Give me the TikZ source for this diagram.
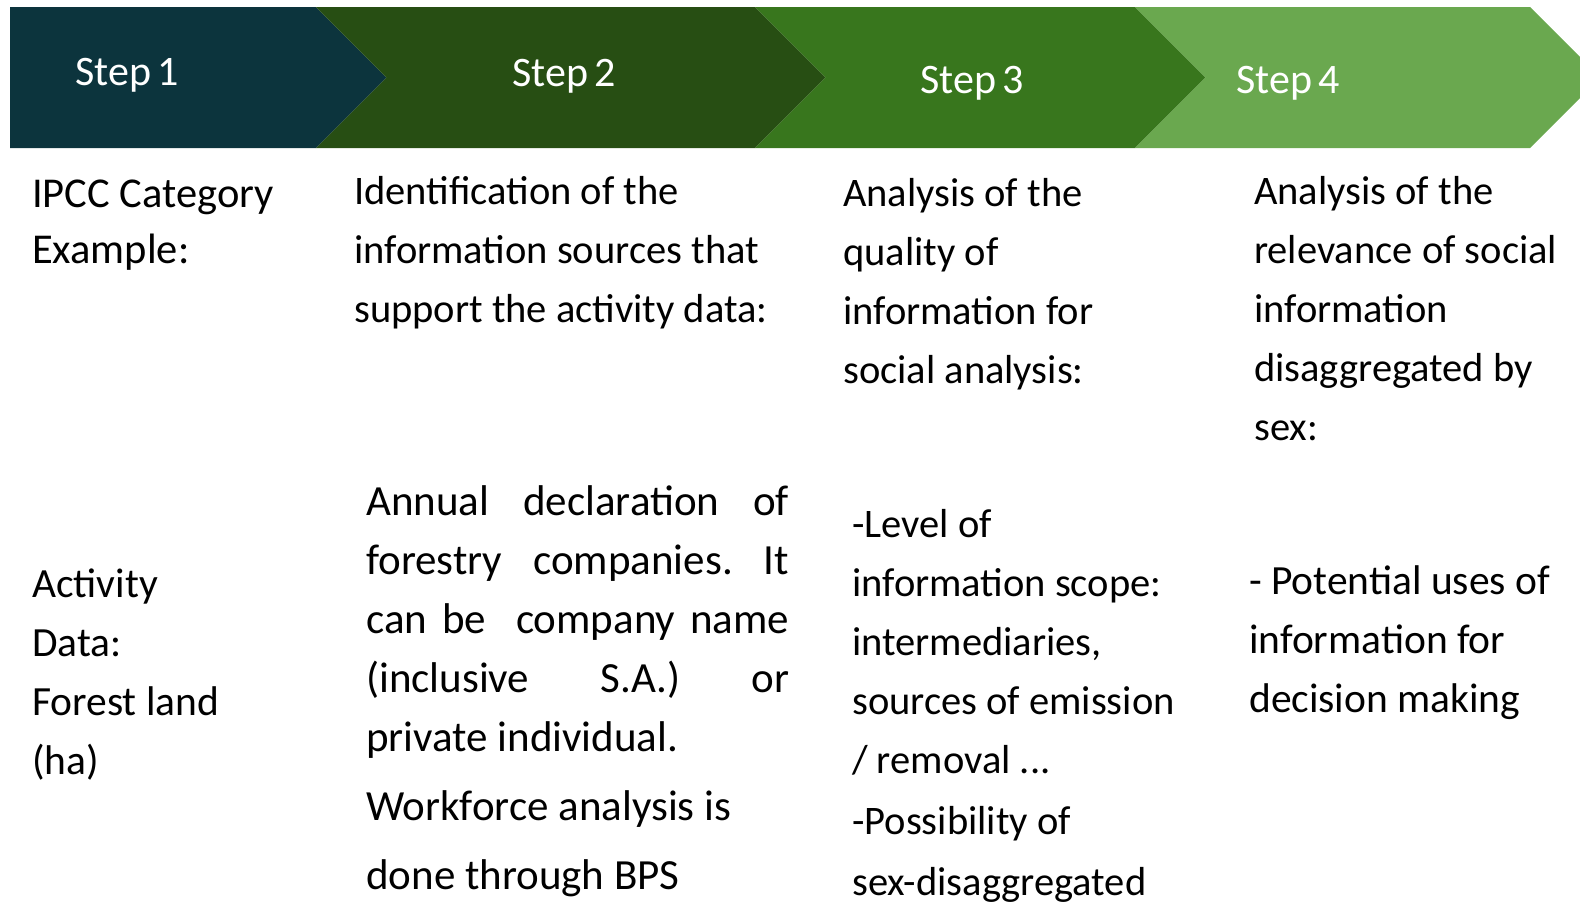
\documentclass[tikz,border=0pt]{standalone}
\usepackage{fontspec}
\setmainfont{Carlito}
\newfontfamily\stepfont{Carlito}[WordSpace=0.7]
\definecolor{stepone}{HTML}{0C343D}
\definecolor{steptwo}{HTML}{274E13}
\definecolor{stepthree}{HTML}{38761D}
\definecolor{stepfour}{HTML}{6AA84F}

\begin{document}
\begin{tikzpicture}[x=1pt, y=-1pt,
    steplabel/.style={anchor=base west, inner sep=0pt, text=white,
                      font=\stepfont\fontsize{42}{50}\selectfont},
    cell/.style={anchor=base west, inner sep=0pt, align=flush left, text width=#1,
                 font=\fontsize{40.5}{59}\selectfont},
    cell/.default=480pt]
    \useasboundingbox (0,0) rectangle (1580,903);

    \fill [stepone] (10,7) -- (316,7) -- (386.5,77.5) -- (316,148) -- (10,148) -- cycle;
    \fill [steptwo] (316,7) -- (755,7) -- (825.5,77.5) -- (755,148) -- (316,148) -- (386.5,77.5) -- cycle;
    \fill [stepthree] (755,7) -- (1135,7) -- (1205.5,77.5) -- (1135,148) -- (755,148) -- (825.5,77.5) -- cycle;
    \fill [stepfour] (1135,7) -- (1530,7) -- (1600.5,77.5) -- (1530,148) -- (1135,148) -- (1205.5,77.5) -- cycle;

    \node [steplabel] (step1) at (75,85) {Step 1};
    \node [steplabel] (step2) at (512,86) {Step 2};
    \node [steplabel] (step3) at (920,93) {Step 3};
    \node [steplabel] (step4) at (1236,93) {Step 4};

    \node [cell, font=\fontsize{42.5}{59}\selectfont] (category) at (32,207) {IPCC Category\\[-3pt]Example:};
    \node [cell] (sources) at (354,204) {Identification of the\\information sources that\\support the activity data:};
    \node [cell] (quality) at (843,206) {Analysis of the\\quality of\\information for\\social analysis:};
    \node [cell] (relevance) at (1254,204) {Analysis of the\\relevance of social\\information\\disaggregated by\\sex:};

    \node [cell, font=\fontsize{41.5}{59}\selectfont] (activity) at (32,597) {Activity\\Data:\\Forest land\\(ha)};
    \node [cell=423pt, font=\fontsize{43}{59}\selectfont] (declaration) at (366,515) {Annual\hfill declaration\hfill of\\
        forestry\hfill companies.\hfill It\\
        can\hfill be\hfill\hfill company\hfill name\\
        (inclusive\hfill S.A.)\hfill or\\
        private individual.\\[10pt]
        Workforce analysis is\\[10pt]
        done through BPS};
    \node [cell] (scope) at (852,537) {-Level of\\information scope:\\intermediaries,\\sources of emission\\/ removal ...\\[2pt]-Possibility of\\[2pt]sex-disaggregated};
    \node [cell, font=\fontsize{41.5}{59}\selectfont] (uses) at (1249,594) {- Potential uses of\\information for\\decision making};
\end{tikzpicture}
\end{document}
